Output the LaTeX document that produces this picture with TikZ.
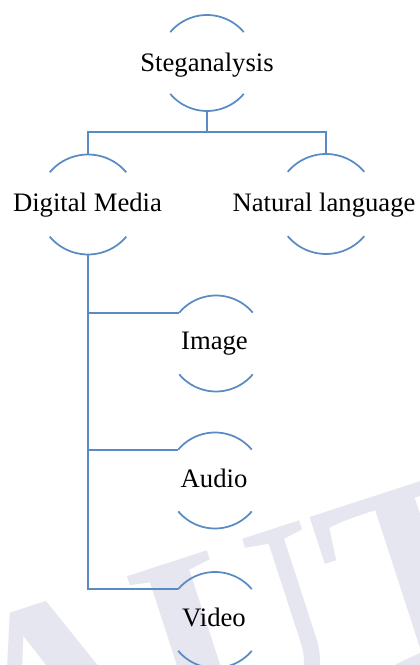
\documentclass[tikz,border=0pt]{standalone}
\usepackage{fontspec}
\setmainfont{Liberation Serif}
\usetikzlibrary{calc}
\definecolor{linkblue}{RGB}{88,138,195}
\definecolor{wm}{RGB}{230,230,240}
\tikzset{
  ring/.style={circle, draw=none, minimum size=72pt, inner sep=0pt, outer sep=0pt},
  bigring/.style={ring, minimum size=75pt},
  lbl/.style={anchor=base, inner sep=0pt, font=\fontsize{20}{24}\selectfont},
  link/.style={draw=linkblue, line width=1.3pt},
}
% upper and lower arcs of a ring node: #1 = node name, #2 = radius
\newcommand{\ringarcs}[2]{%
  \draw[link] (#1.40) arc[start angle=40, end angle=140, radius=#2];
  \draw[link] (#1.220) arc[start angle=220, end angle=320, radius=#2];
}
\begin{document}
\begin{tikzpicture}[x=0.75pt, y=0.75pt]
\useasboundingbox (0,0) rectangle (419,665);
\clip (0,0) rectangle (419,665);

% faint background lettering
\node[anchor=base west, rotate=18, inner sep=0pt, text=wm,
      font=\fontsize{202}{202}\selectfont\bfseries] (wmark) at (-10,-142) {AUT};

% ring outlines
\node[ring]    (stegc)  at (207,602)   {};
\node[bigring] (dmc)    at (88,460.5)  {};
\node[bigring] (nlc)    at (326,461)   {};
\node[ring]    (imgc)   at (216,321.5) {};
\node[ring]    (audc)   at (215,184.5) {};
\node[ring]    (vidc)   at (215,45)    {};

\ringarcs{stegc}{36pt}
\ringarcs{dmc}{37.5pt}
\ringarcs{nlc}{37.5pt}
\ringarcs{imgc}{36pt}
\ringarcs{audc}{36pt}
\ringarcs{vidc}{36pt}

% labels
\node[lbl] (steg) at (207,593)   {Steganalysis};
\node[lbl] (dm)   at (87.5,453)  {Digital Media};
\node[lbl] (nl)   at (324,453)   {Natural language};
\node[lbl] (img)  at (214.5,315) {Image};
\node[lbl] (aud)  at (214,177)   {Audio};
\node[lbl] (vid)  at (214,38)    {Video};

% connectors
\coordinate (split) at (207,533);
\draw[link] (stegc.south) -- (split);
\draw[link] (dmc.north) |- (split) -| (nlc.north);
\draw[link] (dmc.south) |- (vidc.140);
\draw[link] (dmc.south |- imgc.140) -- (imgc.140);
\draw[link] (dmc.south |- audc.140) -- (audc.140);
\end{tikzpicture}
\end{document}
